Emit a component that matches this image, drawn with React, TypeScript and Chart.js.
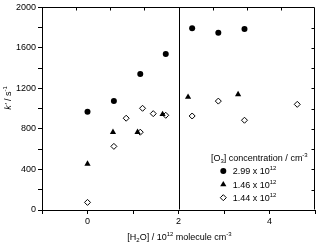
import React, { useEffect, useRef } from "react";
import { Chart, registerables } from "chart.js";

Chart.register(...registerables);

const circleX = [0, 0.58, 1.16, 1.72, 2.3, 2.875, 3.45];
const circleY = [970, 1075, 1343, 1539, 1794, 1749, 1788];
const triX = [0, 0.56, 1.1, 1.65, 2.21, 3.31];
const triY = [455, 768, 768, 945, 1115, 1141];
const diaX = [0, 0.58, 1.16, 0.85, 1.21, 1.445, 1.72, 2.3, 2.875, 3.45, 4.61];
const diaY = [75, 628, 768, 906, 1004, 951, 935, 928, 1075, 886, 1043];
const legendLabels = ["2.99 x 10", "1.46 x 10", "1.44 x 10"];
const legendExp = "12";
const xMin = -1, xMax = 5, yMin = 0, yMax = 2000;
const dividerX = 2;

const FONT = '"Liberation Sans", Arial, sans-serif';
const FS = 9;
const SFS = 6;

type Part = { t: string; m?: "sub" | "sup"; it?: boolean };

function partsWidth(ctx: CanvasRenderingContext2D, parts: Part[]) {
  let w = 0;
  for (const p of parts) {
    ctx.font = `${p.it ? "italic " : ""}${p.m ? SFS : FS}px ${FONT}`;
    w += ctx.measureText(p.t).width;
  }
  return w;
}

function drawParts(ctx: CanvasRenderingContext2D, parts: Part[], x: number, y: number) {
  let cx = x;
  ctx.textBaseline = "alphabetic";
  ctx.textAlign = "left";
  for (const p of parts) {
    ctx.font = `${p.it ? "italic " : ""}${p.m ? SFS : FS}px ${FONT}`;
    const dy = p.m === "sub" ? 2 : p.m === "sup" ? -4 : 0;
    ctx.fillText(p.t, cx, y + dy);
    cx += ctx.measureText(p.t).width;
  }
}

function marker(ctx: CanvasRenderingContext2D, kind: number, x: number, y: number) {
  ctx.save();
  ctx.fillStyle = "#000";
  ctx.strokeStyle = "#000";
  ctx.lineWidth = 1;
  ctx.beginPath();
  if (kind === 0) {
    ctx.arc(x, y, 3, 0, Math.PI * 2);
    ctx.fill();
  } else if (kind === 1) {
    const r = 3.6;
    ctx.moveTo(x, y - r);
    ctx.lineTo(x + r * 0.866, y + r * 0.5);
    ctx.lineTo(x - r * 0.866, y + r * 0.5);
    ctx.closePath();
    ctx.fill();
  } else {
    const r = 3;
    ctx.moveTo(x, y - r);
    ctx.lineTo(x + r, y);
    ctx.lineTo(x, y + r);
    ctx.lineTo(x - r, y);
    ctx.closePath();
    ctx.fillStyle = "#fff";
    ctx.fill();
    ctx.stroke();
  }
  ctx.restore();
}

const decor = {
  id: "decor",
  beforeDatasetsDraw(chart: any) {
    const { ctx, chartArea: a, scales } = chart;
    const L = Math.round(a.left) + 0.5;
    const R = Math.round(a.right) - 0.5;
    const T = Math.round(a.top) + 0.5;
    const B = Math.round(a.bottom) - 0.5;
    ctx.save();
    ctx.strokeStyle = "#000";
    ctx.lineWidth = 1;
    ctx.beginPath();
    ctx.moveTo(L, T);
    ctx.lineTo(R, T);
    ctx.lineTo(R, B);
    // divider
    const dx = Math.round(scales.x.getPixelForValue(dividerX)) + 0.5;
    ctx.moveTo(dx, T);
    ctx.lineTo(dx, B);
    // top inward ticks (8 divisions)
    for (let k = 1; k < 8; k++) {
      const px = Math.round(a.left + (k * (a.right - a.left)) / 8) + 0.5;
      ctx.moveTo(px, T);
      ctx.lineTo(px, T + 3);
    }
    // right inward ticks
    for (let v = yMin + 200; v < yMax; v += 200) {
      const py = Math.round(scales.y.getPixelForValue(v)) + 0.5;
      ctx.moveTo(R, py);
      ctx.lineTo(R - 3, py);
    }
    ctx.stroke();
    ctx.restore();
  },
  afterDraw(chart: any) {
    const { ctx, chartArea: a } = chart;
    ctx.save();
    ctx.fillStyle = "#000";
    // legend
    drawParts(ctx, [{ t: "[O" }, { t: "3", m: "sub" }, { t: "] concentration / cm" }, { t: "-3", m: "sup" }], 211, 161);
    const ys = [171, 184.5, 197.7];
    for (let i = 0; i < 3; i++) {
      marker(ctx, i, 223.3, ys[i]);
      ctx.fillStyle = "#000";
      drawParts(ctx, [{ t: legendLabels[i] }, { t: legendExp, m: "sup" }], 232.7, ys[i] + 3.2);
    }
    // x title
    const xt: Part[] = [{ t: "[H" }, { t: "2", m: "sub" }, { t: "O] / 10" }, { t: "12", m: "sup" }, { t: " molecule cm" }, { t: "-3", m: "sup" }];
    const xw = partsWidth(ctx, xt);
    drawParts(ctx, xt, (a.left + a.right) / 2 - xw / 2 + 1, 239.5);
    // y title
    const yt: Part[] = [{ t: "k'", it: true }, { t: " / s" }, { t: "-1", m: "sup" }];
    const yw = partsWidth(ctx, yt);
    ctx.translate(10.5, 98);
    ctx.rotate(-Math.PI / 2);
    drawParts(ctx, yt, -yw / 2, 0);
    ctx.restore();
  },
};

export default function App() {
  const ref = useRef<HTMLCanvasElement | null>(null);
  useEffect(() => {
    document.body.style.margin = "0";
    const el = ref.current;
    if (!el) return;
    const pts = (xs: number[], ys: number[]) => xs.map((x, i) => ({ x, y: ys[i] }));
    const tickFont = { family: FONT, size: FS };
    const chart = new Chart(el, {
      type: "scatter",
      data: {
        datasets: [
          { label: "2.99", data: pts(circleX, circleY), pointStyle: "circle", pointRadius: 3, backgroundColor: "#000", borderColor: "#000", borderWidth: 0 },
          { label: "1.46", data: pts(triX, triY), pointStyle: "triangle", pointRadius: 3.6, backgroundColor: "#000", borderColor: "#000", borderWidth: 0 },
          { label: "1.44", data: pts(diaX, diaY), pointStyle: "rectRot", pointRadius: 3, backgroundColor: "#fff", borderColor: "#000", borderWidth: 1 },
        ],
      },
      options: {
        animation: false,
        responsive: false,
        maintainAspectRatio: false,
        layout: { padding: { left: 0, right: 3, top: 6, bottom: 0 } },
        plugins: { legend: { display: false }, tooltip: { enabled: false } },
        scales: {
          x: {
            type: "linear",
            min: xMin,
            max: xMax,
            ticks: {
              stepSize: 1,
              autoSkip: false,
              maxRotation: 0,
              padding: 2,
              color: "#000",
              font: tickFont,
              callback: (v: any) => (Number(v) % 2 === 0 ? String(v) : ""),
            },
            grid: { drawOnChartArea: false, tickLength: 4, color: "#000" },
            border: { color: "#000", width: 1 },
            afterFit: (s: any) => {
              s.height = 36;
            },
          },
          y: {
            type: "linear",
            min: yMin,
            max: yMax,
            ticks: {
              stepSize: 200,
              autoSkip: false,
              padding: 2,
              color: "#000",
              font: tickFont,
              callback: (v: any) => (Number(v) % 400 === 0 ? String(v) : ""),
            },
            grid: { drawOnChartArea: false, tickLength: 4, color: "#000" },
            border: { color: "#000", width: 1 },
            afterFit: (s: any) => {
              s.width = 42;
            },
          },
        },
      },
      plugins: [decor],
    } as any);
    return () => chart.destroy();
  }, []);
  return (
    <div style={{ width: 320, height: 246 }}>
      <canvas ref={ref} width={320} height={246} style={{ display: "block", width: 320, height: 246 }} />
    </div>
  );
}
